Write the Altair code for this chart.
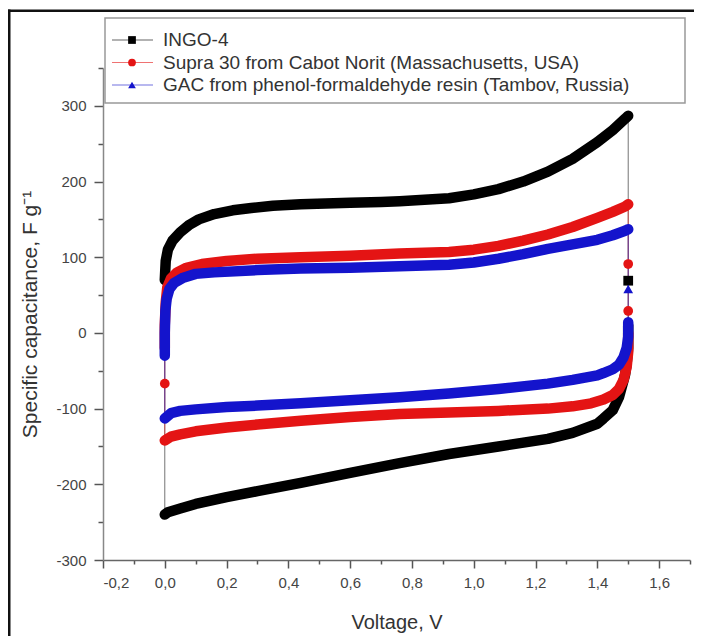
import altair as alt
import pandas as pd

# ---------------- data ----------------
series_names = [
    "INGO-4",
    "Supra 30 from Cabot Norit (Massachusetts, USA)",
    "GAC from phenol-formaldehyde resin (Tambov, Russia)",
]
series_colors = ["#000000", "#e41414", "#1414cc"]
series_shapes = ["square", "circle", "triangle-up"]

# INGO-4 : anodic (upper) branch, cathodic (lower) branch, sparse turn points
ingo_up_v = [0.0, 0.003, 0.01, 0.025, 0.05, 0.08, 0.11, 0.16, 0.22, 0.28, 0.35, 0.44, 0.52, 0.60,
             0.70, 0.76, 0.84, 0.92, 1.00, 1.08, 1.16, 1.24, 1.32, 1.40, 1.45, 1.49, 1.50]
ingo_up_c = [70, 95, 110, 122, 133, 143, 150, 157, 162, 165, 168, 170, 171, 172,
             173, 174, 176, 178, 183, 190, 200, 213, 230, 252, 268, 283, 287]
ingo_dn_v = [1.50, 1.50, 1.495, 1.49, 1.47, 1.45, 1.42, 1.40, 1.32, 1.24, 1.08, 0.92, 0.76,
             0.60, 0.44, 0.30, 0.20, 0.10, 0.05, 0.01, 0.0]
ingo_dn_c = [10, -20, -40, -55, -85, -102, -113, -120, -132, -140, -150, -160, -172,
             -185, -198, -209, -217, -226, -232, -237, -240]
ingo_turn_hi = [69]
ingo_turn_lo = []

# Supra 30
supra_up_v = [0.0, 0.0, 0.003, 0.008, 0.02, 0.04, 0.07, 0.12, 0.20, 0.30, 0.44, 0.60, 0.76,
              0.92, 1.00, 1.08, 1.16, 1.24, 1.32, 1.40, 1.45, 1.49, 1.50]
supra_up_c = [-20, 10, 40, 60, 72, 80, 86, 91, 95, 98, 100, 102, 105,
              107, 110, 115, 122, 130, 140, 152, 160, 167, 170]
supra_dn_v = [1.50, 1.50, 1.495, 1.485, 1.47, 1.45, 1.42, 1.38, 1.32, 1.24, 1.08, 0.92, 0.76,
              0.60, 0.44, 0.30, 0.20, 0.10, 0.05, 0.02, 0.0]
supra_dn_c = [0, -25, -45, -62, -74, -82, -88, -93, -97, -100, -103, -105, -107,
              -111, -116, -121, -125, -130, -134, -137, -142]
supra_turn_hi = [91, 29]
supra_turn_lo = [-67]

# GAC
gac_up_v = [0.0, 0.0, 0.002, 0.006, 0.015, 0.03, 0.06, 0.10, 0.16, 0.30, 0.44, 0.60, 0.76,
            0.92, 1.00, 1.08, 1.16, 1.24, 1.32, 1.40, 1.45, 1.49, 1.50]
gac_up_c = [-30, 0, 30, 45, 58, 66, 73, 78, 80, 83, 85, 86, 88,
            90, 93, 98, 104, 111, 117, 123, 129, 135, 137]
gac_dn_v = [1.50, 1.50, 1.495, 1.485, 1.47, 1.45, 1.42, 1.40, 1.32, 1.24, 1.08, 0.92, 0.76,
            0.60, 0.44, 0.30, 0.20, 0.10, 0.05, 0.02, 0.0]
gac_dn_c = [14, -5, -20, -32, -42, -48, -53, -56, -62, -67, -74, -80, -85,
            -89, -93, -96, -98, -101, -103, -106, -113]
gac_turn_hi = [58]
gac_turn_lo = []

turn_hi_v = 1.5
turn_lo_v = 0.0

x_ticks = [-0.2, -0.1, 0.0, 0.1, 0.2, 0.3, 0.4, 0.5, 0.6, 0.7, 0.8, 0.9, 1.0,
           1.1, 1.2, 1.3, 1.4, 1.5, 1.6, 1.7]
y_ticks = [-300, -250, -200, -150, -100, -50, 0, 50, 100, 150, 200, 250, 300, 350]

series_data = [
    (ingo_up_v, ingo_up_c, ingo_dn_v, ingo_dn_c, ingo_turn_hi, ingo_turn_lo),
    (supra_up_v, supra_up_c, supra_dn_v, supra_dn_c, supra_turn_hi, supra_turn_lo),
    (gac_up_v, gac_up_c, gac_dn_v, gac_dn_c, gac_turn_hi, gac_turn_lo),
]

# ---------------- layout ----------------
W, H = 587, 492
FONT = "Liberation Sans"

x_axis = alt.Axis(
    values=x_ticks,
    labelExpr="abs(round(datum.value * 10)) % 2 == 0 ? replace(replace(format(datum.value, '.1f'), '.', ','), '\u2212', '-') : ''",
    tickSize={"condition": {"test": "abs(round(datum.value * 10)) % 2 == 0", "value": 8}, "value": 4},
    labelPadding=7, labelFontSize=15, labelFont=FONT, labelColor="#444",
    title="Voltage, V", titleFontSize=20, titleFont=FONT, titleFontWeight="normal",
    titleColor="#333", titleY=52, grid=False,
    domainColor="#666", domainWidth=1.5, tickColor="#555", tickWidth=1.5,
)
y_axis = alt.Axis(
    values=y_ticks,
    labelExpr="datum.value % 100 == 0 ? '' + datum.value : ''",
    tickSize={"condition": {"test": "datum.value % 100 == 0", "value": 9}, "value": 5},
    labelPadding=8, labelFontSize=15, labelFont=FONT, labelColor="#444",
    title="Specific capacitance, F g\u207b\u00b9", titleFontSize=21, titleFont=FONT,
    titleFontWeight="normal", titleColor="#333", titleX=-63, grid=False,
    domainColor="#888", domainWidth=1.5, tickColor="#555", tickWidth=1.5,
)
X = alt.X("V:Q", scale=alt.Scale(domain=[-0.2, 1.7], nice=False, zero=False), axis=x_axis)
Y = alt.Y("C:Q", scale=alt.Scale(domain=[-300, 350], nice=False, zero=False), axis=y_axis)

thin_layers, band_layers, pt_layers = [], [], []
for name, color, shape, (uv, uc, dv, dc, thi, tlo) in zip(series_names, series_colors, series_shapes, series_data):
    cyc_v = list(uv) + [turn_hi_v] * len(thi) + list(dv) + [turn_lo_v] * len(tlo) + [uv[0]]
    cyc_c = list(uc) + list(thi) + list(dc) + list(tlo) + [uc[0]]
    df_thin = pd.DataFrame({"V": cyc_v, "C": cyc_c, "idx": range(len(cyc_v))})
    df_band = pd.concat([
        pd.DataFrame({"V": uv, "C": uc, "seg": "up", "idx": range(len(uv))}),
        pd.DataFrame({"V": dv, "C": dc, "seg": "down", "idx": range(len(dv))}),
    ])
    df_pts = pd.DataFrame({"V": [turn_hi_v] * len(thi) + [turn_lo_v] * len(tlo),
                           "C": list(thi) + list(tlo)})
    thin_layers.append(
        alt.Chart(df_thin).mark_line(color=color, strokeWidth=1, opacity=0.55)
        .encode(x=X, y=Y, order="idx:Q")
    )
    band_layers.append(
        alt.Chart(df_band).mark_line(color=color, strokeWidth=10.5, strokeCap="round", strokeJoin="round")
        .encode(x=X, y=Y, detail="seg:N", order="idx:Q")
    )
    if len(df_pts):
        pt_layers.append(
            alt.Chart(df_pts).mark_point(shape=shape, filled=True, color=color, size=95, opacity=1)
            .encode(x=X, y=Y)
        )

one = alt.Data(values=[{}])

# legend (box, line + marker, label)
legend_layers = [
    alt.Chart(one).mark_rect(fill="white", stroke="#999", strokeWidth=1.5).encode(
        x=alt.value(2), x2=alt.value(582), y=alt.value(-50), y2=alt.value(35))
]
for i, (name, color, shape) in enumerate(zip(series_names, series_colors, series_shapes)):
    ly = -28 + 22.5 * i
    legend_layers.append(alt.Chart(one).mark_rule(color=color, strokeWidth=1.2, opacity=0.6).encode(
        x=alt.value(9), x2=alt.value(50), y=alt.value(ly)))
    legend_layers.append(alt.Chart(one).mark_point(shape=shape, filled=True, color=color, size=60, opacity=1).encode(
        x=alt.value(29), y=alt.value(ly)))
    legend_layers.append(alt.Chart(one).mark_text(align="left", baseline="middle", font=FONT, fontSize=19,
                                                  color="#333").encode(
        x=alt.value(60), y=alt.value(ly), text=alt.value(name)))

# image frame (top and left black border), drawn as thin filled rectangles
frame_layers = [
    alt.Chart(one).mark_rect(color="#111").encode(
        x=alt.value(-95), x2=alt.value(591), y=alt.value(-58.5), y2=alt.value(-56)),
    alt.Chart(one).mark_rect(color="#111").encode(
        x=alt.value(-95), x2=alt.value(-92.5), y=alt.value(-58.5), y2=alt.value(580)),
]

chart = alt.layer(*thin_layers, *band_layers, *pt_layers, *legend_layers, *frame_layers).properties(
    width=W, height=H,
    autosize=alt.AutoSizeParams(type="none"),
    padding={"left": 95, "top": 60, "right": 4, "bottom": 76},
    background="white",
).configure_view(stroke=None)

chart.save("out.html", embed_options={"renderer": "svg", "actions": False})
